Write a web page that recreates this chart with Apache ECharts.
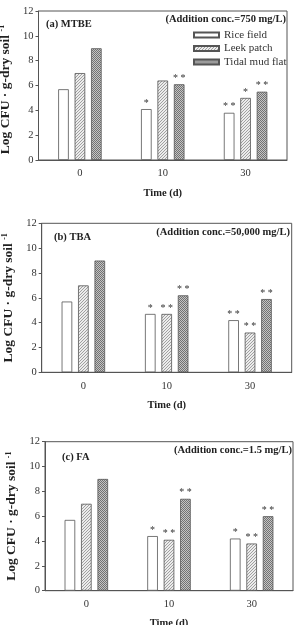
<!DOCTYPE html>
<html><head><meta charset="utf-8">
<script src="https://cdn.jsdelivr.net/npm/echarts@6/dist/echarts.min.js"></script>
<style>html,body{margin:0;padding:0;background:#fff}#c{width:299px;height:625px}</style>
</head><body><div id="c"></div>
<script>
var categories = ['0', '10', '30'];
var seriesNames = ['Rice field', 'Leek patch', 'Tidal mud flat'];
var yTicks = [0, 2, 4, 6, 8, 10, 12];

// (a) MTBE
var mtbeRice = [5.7, 4.1, 3.8];
var mtbeLeek = [7.0, 6.4, 5.0];
var mtbeTidal = [9.0, 6.1, 5.5];
var mtbeSigRice = ['', '*', '* *'];
var mtbeSigLeek = ['', '', '*'];
var mtbeSigTidal = ['', '* *', '* *'];

// (b) TBA
var tbaRice = [5.7, 4.7, 4.2];
var tbaLeek = [7.0, 4.7, 3.2];
var tbaTidal = [9.0, 6.2, 5.9];
var tbaSigRice = ['', '*', '* *'];
var tbaSigLeek = ['', '* *', '* *'];
var tbaSigTidal = ['', '* *', '* *'];

// (c) FA
var faRice = [5.7, 4.4, 4.2];
var faLeek = [7.0, 4.1, 3.8];
var faTidal = [9.0, 7.4, 6.0];
var faSigRice = ['', '*', '*'];
var faSigLeek = ['', '* *', '* *'];
var faSigTidal = ['', '* *', '* *'];

var panelLabels = ['(a) MTBE', '(b) TBA', '(c) FA'];
var concLabels = ['(Addition conc.=750 mg/L)', '(Addition conc.=50,000 mg/L)', '(Addition conc.=1.5 mg/L)'];

function hatch() {
  var c = document.createElement('canvas'); c.width = 3; c.height = 3;
  var x = c.getContext('2d');
  x.fillStyle = '#ececec'; x.fillRect(0, 0, 3, 3);
  x.fillStyle = '#a0a0a0';
  for (var i = 0; i < 3; i++) x.fillRect(i, 2 - i, 1, 1);
  return { image: c, repeat: 'repeat' };
}
function dots() {
  var c = document.createElement('canvas'); c.width = 2; c.height = 2;
  var x = c.getContext('2d');
  x.fillStyle = '#c4c4c4'; x.fillRect(0, 0, 2, 2);
  x.fillStyle = '#727272'; x.fillRect(0, 0, 1, 1); x.fillRect(1, 1, 1, 1);
  return { image: c, repeat: 'repeat' };
}
var fills = ['#ffffff', hatch(), dots()];

var SERIF = '"Liberation Serif", "Times New Roman", serif';
var grids = [
  { left: 38.5, right: 12, top: 11, height: 149 },
  { left: 41.7, right: 7.3, top: 223.3, height: 149 },
  { left: 45, right: 6, top: 441.7, height: 149 }
];
var nameGaps = [21, 22.5, 23];
var panels = [
  [[mtbeRice, mtbeSigRice], [mtbeLeek, mtbeSigLeek], [mtbeTidal, mtbeSigTidal]],
  [[tbaRice, tbaSigRice], [tbaLeek, tbaSigLeek], [tbaTidal, tbaSigTidal]],
  [[faRice, faSigRice], [faLeek, faSigLeek], [faTidal, faSigTidal]]
];

var xAxes = [], yAxes = [], series = [], graphics = [];
grids.forEach(function (g, gi) {
  g.show = true; g.borderColor = '#555'; g.borderWidth = 1; g.backgroundColor = 'transparent';
  g.containLabel = false; g.outerBoundsMode = 'none';
  xAxes.push({
    type: 'category', gridIndex: gi, data: categories,
    name: 'Time (d)', nameLocation: 'middle', nameGap: 27.5,
    nameTextStyle: { fontFamily: SERIF, fontWeight: 'bold', fontSize: 10.5, color: '#222' },
    axisLine: { lineStyle: { color: '#555', width: 1 } },
    axisTick: { show: false },
    axisLabel: { fontFamily: SERIF, fontSize: 10.5, color: '#333', margin: 8 }
  });
  yAxes.push({
    type: 'value', gridIndex: gi, min: yTicks[0], max: yTicks[yTicks.length - 1], interval: 2,
    name: 'Log CFU · g-dry soil {sup|-1}', nameLocation: 'middle', nameGap: nameGaps[gi], nameRotate: 90,
    nameTextStyle: { fontFamily: SERIF, fontWeight: 'bold', fontSize: 13.5, color: '#222',
      padding: gi === 0 ? [0, 8, 0, 0] : 0,
      rich: { sup: { fontFamily: SERIF, fontWeight: 'bold', fontSize: 8, color: '#222', verticalAlign: 'top', padding: [0, 0, 6, 0] } } },
    axisLine: { show: true, lineStyle: { color: '#555', width: 1 } },
    axisTick: { show: true, length: 3, lineStyle: { color: '#555' } },
    splitLine: { show: false },
    axisLabel: { fontFamily: SERIF, fontSize: 10.5, color: '#333', margin: 5,
      formatter: function (v) { return yTicks.indexOf(v) >= 0 ? String(v) : ''; } }
  });
  panels[gi].forEach(function (pair, si) {
    var vals = pair[0], sig = pair[1];
    series.push({
      type: 'bar', name: seriesNames[si], xAxisIndex: gi, yAxisIndex: gi,
      data: vals, barWidth: 10.6, barGap: '55%',
      itemStyle: { color: fills[si], borderColor: '#555', borderWidth: 0.8 },
      label: { show: true, position: 'top', distance: 1, fontFamily: SERIF, fontSize: 10, color: '#333',
        formatter: (function (s) { return function (p) { return s[p.dataIndex]; }; })(sig) },
      emphasis: { disabled: true }, animation: false
    });
  });
});

graphics.push(
  { type: 'text', x: 46, y: 24, style: { text: panelLabels[0], font: 'bold 10.5px ' + SERIF, fill: '#222', align: 'left', verticalAlign: 'middle' } },
  { type: 'text', x: 286, y: 19, style: { text: concLabels[0], font: 'bold 10.5px ' + SERIF, fill: '#222', align: 'right', verticalAlign: 'middle' } },
  { type: 'text', x: 54, y: 237, style: { text: panelLabels[1], font: 'bold 10.5px ' + SERIF, fill: '#222', align: 'left', verticalAlign: 'middle' } },
  { type: 'text', x: 290, y: 232, style: { text: concLabels[1], font: 'bold 10.5px ' + SERIF, fill: '#222', align: 'right', verticalAlign: 'middle' } },
  { type: 'text', x: 62, y: 457, style: { text: panelLabels[2], font: 'bold 10.5px ' + SERIF, fill: '#222', align: 'left', verticalAlign: 'middle' } },
  { type: 'text', x: 292, y: 450, style: { text: concLabels[2], font: 'bold 10.5px ' + SERIF, fill: '#222', align: 'right', verticalAlign: 'middle' } }
);

var chart = echarts.init(document.getElementById('c'), null, { renderer: 'canvas' });
chart.setOption({
  animation: false,
  grid: grids, xAxis: xAxes, yAxis: yAxes, series: series, graphic: graphics,
  legend: {
    data: seriesNames, orient: 'vertical', left: 193, top: 29, padding: 0, itemWidth: 25, itemHeight: 5, itemGap: 1.5,
    icon: 'rect', selectedMode: false,
    textStyle: { fontFamily: SERIF, fontSize: 11, color: '#333', lineHeight: 12 }
  }
});
</script></body></html>
